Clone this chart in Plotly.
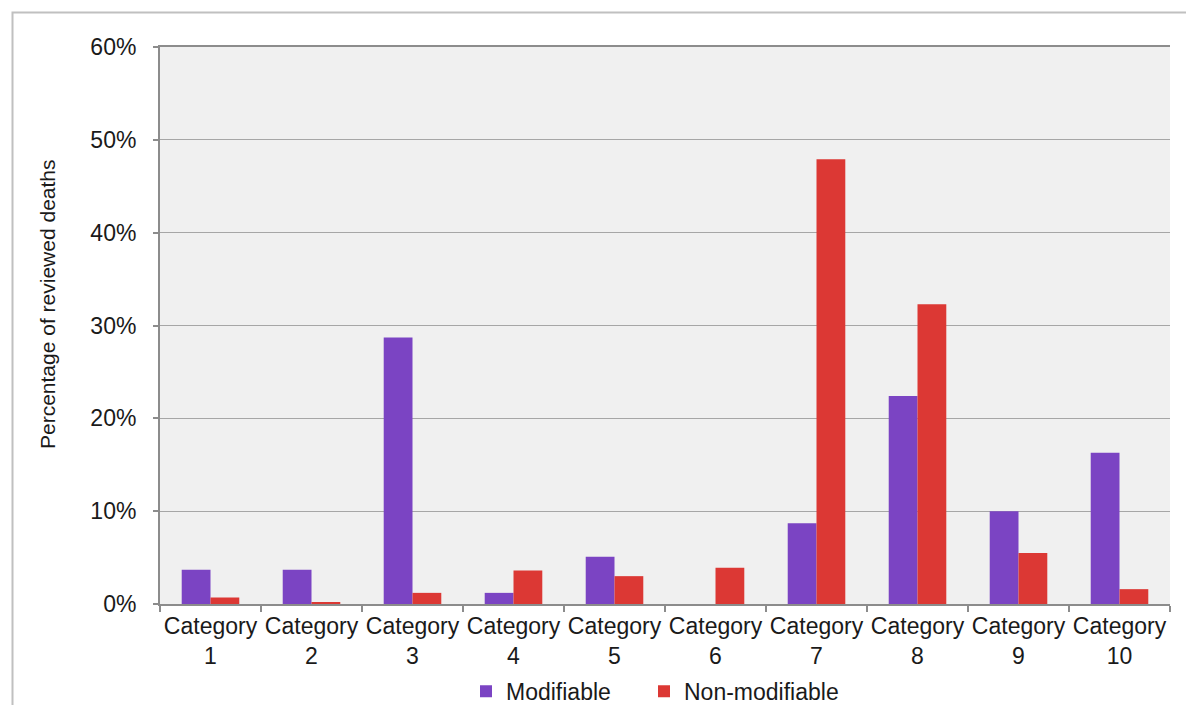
import plotly.graph_objects as go

categories = ["Category<br>1", "Category<br>2", "Category<br>3", "Category<br>4", "Category<br>5",
              "Category<br>6", "Category<br>7", "Category<br>8", "Category<br>9", "Category<br>10"]
modifiable = [3.7, 3.7, 28.7, 1.2, 5.1, 0.0, 8.7, 22.4, 10.0, 16.3]
non_modifiable = [0.7, 0.2, 1.2, 3.6, 3.0, 3.9, 47.9, 32.3, 5.5, 1.6]
y_ticks = [0, 10, 20, 30, 40, 50, 60]
y_tick_labels = ["0%", "10%", "20%", "30%", "40%", "50%", "60%"]

FONT = "Liberation Sans, Arial, sans-serif"

fig = go.Figure()
fig.add_trace(go.Bar(x=categories, y=modifiable, name="Modifiable", marker_color="#7b44c3",
                     marker_line_width=0, legend="legend"))
fig.add_trace(go.Bar(x=categories, y=non_modifiable, name="Non-modifiable", marker_color="#dc3834",
                     marker_line_width=0, legend="legend2"))

legend_common = dict(orientation="h", xanchor="left", yref="container", y=0.05, yanchor="top",
                     font=dict(size=23), itemwidth=30, bgcolor="rgba(0,0,0,0)")

fig.update_layout(
    width=1186, height=705,
    margin=dict(l=160, r=16, t=47, b=101, autoexpand=False),
    paper_bgcolor="white",
    plot_bgcolor="#f0f0f0",
    barmode="group",
    bargap=0.43,
    bargroupgap=0,
    font=dict(family=FONT, size=23, color="#1a1a1a"),
    showlegend=True,
    legend=dict(x=(466 - 160) / 1010, **legend_common),
    legend2=dict(x=(644 - 160) / 1010, **legend_common),
    xaxis=dict(showline=True, linecolor="#8c8c8c", linewidth=2, mirror=True, automargin=False,
               ticks="outside", tickson="boundaries", ticklen=6, tickcolor="#8c8c8c", tickwidth=2,
               tickangle=0, showgrid=False, tickfont=dict(size=23)),
    yaxis=dict(range=[0, 60], tickvals=y_ticks, ticktext=y_tick_labels, automargin=False,
               showline=True, linecolor="#8c8c8c", linewidth=2,
               ticks="outside", ticklen=5, tickcolor="#8c8c8c", tickwidth=2, ticklabelstandoff=12,
               showgrid=True, gridcolor="#a6a6a6", gridwidth=1.3, zeroline=False,
               tickfont=dict(size=23)),
    shapes=[dict(type="rect", xref="paper", yref="paper",
                 x0=(12.5 - 160) / 1010, x1=(1230 - 160) / 1010,
                 y0=(604 - 760) / 557, y1=(604 - 12.5) / 557,
                 line=dict(color="#c0c0c0", width=2), fillcolor="rgba(0,0,0,0)", layer="below")],
    annotations=[dict(text="Percentage of reviewed deaths", xref="paper", yref="paper",
                      x=(47 - 160) / 1010, y=(604 - 304) / 557, xanchor="center", yanchor="middle",
                      textangle=-90, showarrow=False, font=dict(size=21, color="#1a1a1a"))],
)

fig.write_html("out.html")
